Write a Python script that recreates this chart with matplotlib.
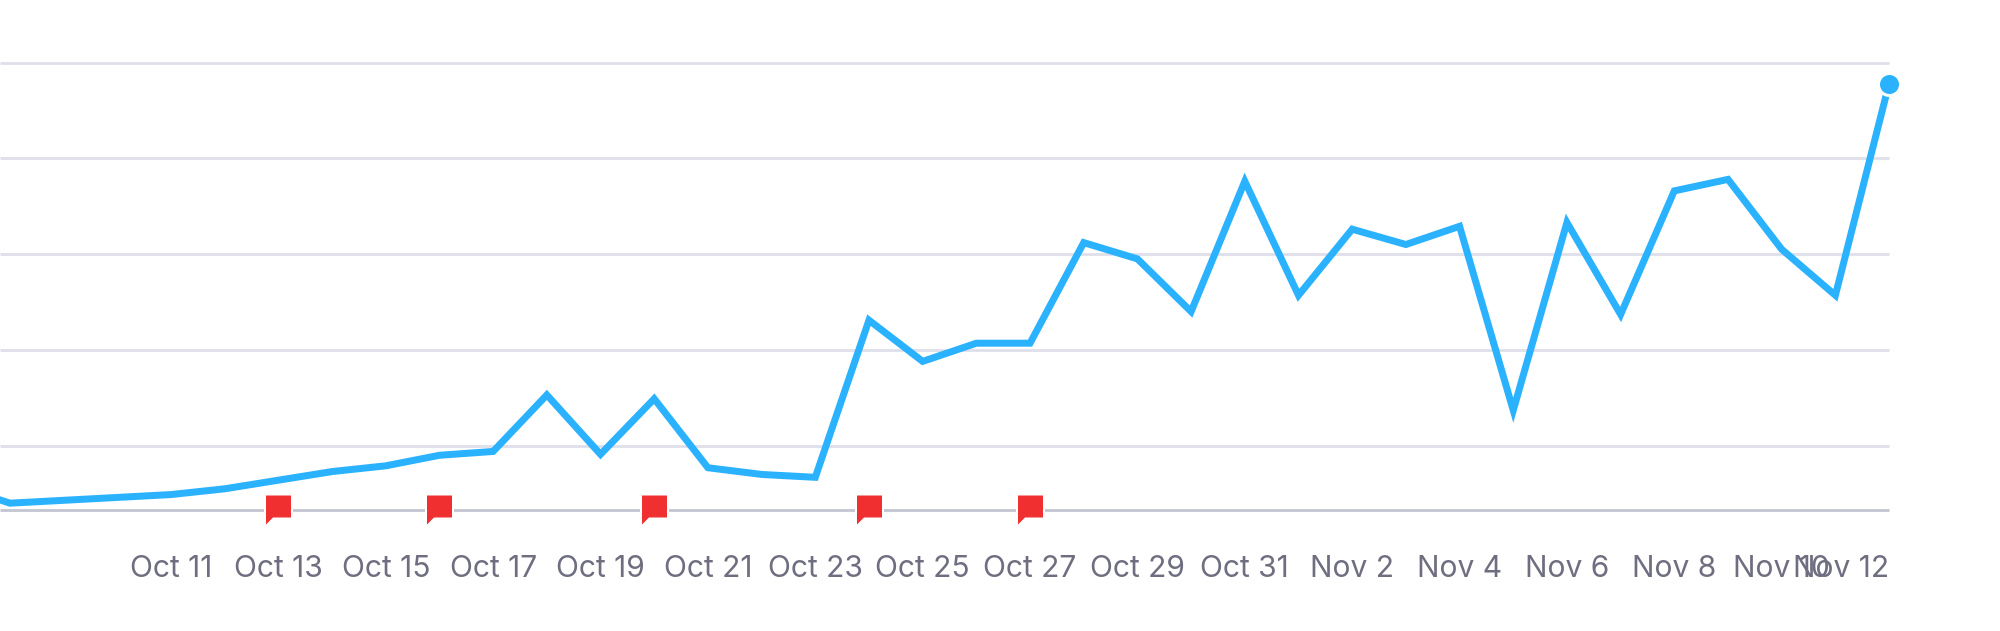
import matplotlib
matplotlib.use("Agg")
import matplotlib.pyplot as plt
from matplotlib.path import Path

plt.rcParams['font.family'] = ['Inter', 'DejaVu Sans']

# day numbers count from Oct 11 = 0
days = list(range(-4, 33))
values = [58.5, 40, 43, 46, 49, 55, 64, 73, 79, 90, 94, 153, 91, 149, 77, 70, 67,
          231, 188, 207, 207, 312, 295, 240, 376, 257, 326, 310, 329, 137, 333, 237,
          366, 378, 305, 257, 478]
tick_days = list(range(0, 33, 2))
tick_labels = ["Oct 11", "Oct 13", "Oct 15", "Oct 17", "Oct 19", "Oct 21", "Oct 23", "Oct 25",
               "Oct 27", "Oct 29", "Oct 31", "Nov 2", "Nov 4", "Nov 6", "Nov 8", "Nov 10", "Nov 12"]
grid_values = [100, 200, 300, 400, 500]
base_value = 33
flag_days = [2, 5, 9, 13, 16]

W, H = 2000, 631
X0, DX = 171, 53.69     # pixel of day 0, pixels per day
Y0, DY = 445.7, 0.958   # pixel of value 100, pixels per unit


def yval(px):
    return 100 + (Y0 - px) / DY


px = 72 / 100  # points per pixel at dpi 100

fig = plt.figure(figsize=(W / 100, H / 100), dpi=100)
ax = fig.add_axes([0, 0, 1, 1])
ax.set_xlim(-X0 / DX, (W - X0) / DX)
ax.set_ylim(yval(H), yval(0))
ax.axis('off')

for v in grid_values:
    ax.plot([ax.get_xlim()[0], days[-1]], [v, v], color='#dfdfea', lw=2.8 * px,
            solid_capstyle='butt', zorder=1)
ax.plot([ax.get_xlim()[0], days[-1]], [base_value, base_value], color='#c2c5d2', lw=2.8 * px,
        solid_capstyle='butt', zorder=1)

ax.plot(days, values, color='#2ab2ff', lw=7 * px, solid_joinstyle='miter',
        solid_capstyle='butt', zorder=3)
ax.plot(days[-1], values[-1], 'o', color='#2ab2ff', ms=22 * px, mec='white', mew=3 * px, zorder=4)

# white halo drawn first, so the red part keeps its sharp tail
flag = Path([(-.5, .6), (.5, .6), (.5, -.28), (-.22, -.28), (-.5, -.56), (-.5, .6)], closed=True)
ax.plot(flag_days, [base_value] * len(flag_days), ls='none', marker=flag, ms=30 * px,
        color='white', mec='white', mew=4 * px, zorder=2)
ax.plot(flag_days, [base_value] * len(flag_days), ls='none', marker=flag, ms=30 * px,
        color='#f03030', mec='none', zorder=2)

for d, lab in zip(tick_days, tick_labels):
    ha = 'right' if lab == "Nov 12" else 'center'
    ax.text(d, yval(577), lab, ha=ha, va='baseline', fontsize=30 * px, color='#6e6e80', zorder=5)

fig.savefig("out.png", dpi=100)
